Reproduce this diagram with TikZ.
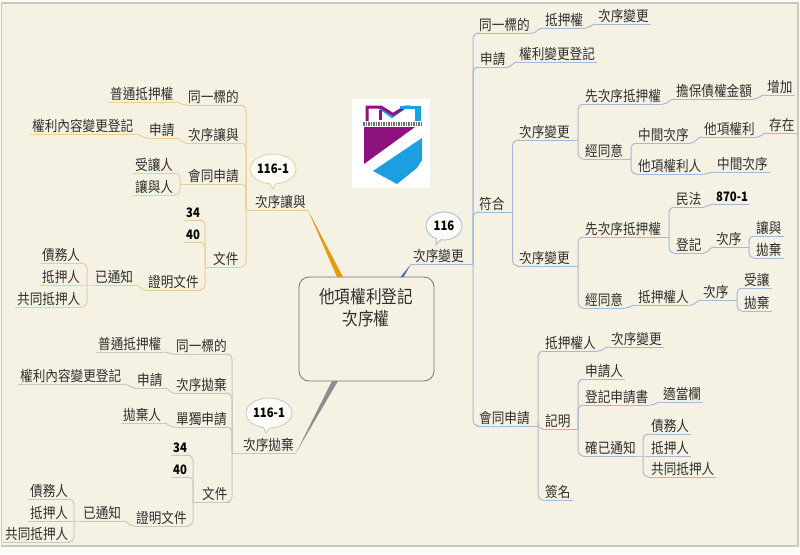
\documentclass[tikz,border=0pt]{standalone}
\usepackage{fontspec}
\setmainfont[FakeStretch=0.87]{Noto Sans CJK TC}
\usepackage{tikz}
\usetikzlibrary{shapes.geometric,shapes.callouts}
\definecolor{paper}{HTML}{F6F2E3}
\definecolor{edgepaper}{HTML}{FDFBF5}
\definecolor{frameline}{HTML}{C9C8BC}
\definecolor{inkdark}{HTML}{2E2E2E}
\definecolor{tanl}{HTML}{E6CE97}
\definecolor{grayl}{HTML}{C8C8BA}
\definecolor{bluel}{HTML}{A8B8D8}
\definecolor{wedgeorange}{HTML}{E8990F}
\definecolor{wedgegray}{HTML}{8E8E8E}
\definecolor{wedgeblue}{HTML}{4A64C0}
\definecolor{logopurple}{HTML}{8E1180}
\definecolor{logocyan}{HTML}{1B9FE0}
\tikzset{
  topic/.style={anchor=south west,inner xsep=2pt,inner ysep=0pt,text height=13pt,text depth=2pt,
    font=\fontsize{14.5}{16}\selectfont,text=inkdark,
    append after command={(\tikzlastnode.south west) edge[draw=#1,line width=1pt] (\tikzlastnode.south east)}},
  yu/.style={topic=tanl},
  pa/.style={topic=grayl},
  bg/.style={topic=bluel},
  num/.style={font=\fontsize{13}{14}\selectfont\bfseries,text=black},
  yuline/.style={draw=tanl,line width=1pt},
  paline/.style={draw=grayl,line width=1pt},
  bgline/.style={draw=bluel,line width=1pt},
  turn/.style={rounded corners=5pt},
  linkl/.style={out=180,in=0},
  linkr/.style={out=0,in=180},
  bubble/.style={ellipse callout,fill=white!70!paper,line width=0.8pt,inner sep=0pt,
    font=\fontsize{13}{14}\selectfont\bfseries,text=black},
}
\begin{document}
\begin{tikzpicture}[x=1pt,y=-1pt]
  \useasboundingbox (0,0) rectangle (800,554);
  \fill[edgepaper] (0,0) rectangle (800,554);
  \draw[frameline,fill=paper,line width=1.2pt] (1.5,3) rectangle (798,546);

  % logo
  \fill[white] (352,99) rectangle (430,188);
  \draw[logocyan,line width=2pt] (378,107) -- (392,117) -- (406,107);
  \draw[logopurple,line width=3pt] (367,121) -- (367,107) -- (381,107) -- (393,114.5) -- (405,107) -- (411,107);
  \draw[logopurple,line width=3pt] (380,110) -- (380,120);
  \draw[logocyan,line width=6pt] (418,106) -- (418,121);
  \draw[logocyan,line width=3pt] (400,107) -- (418,107);
  \draw[inkdark!70,line width=4pt,dash pattern=on 1.5pt off 1pt] (363,123.5) -- (421,123.5);
  \fill[logopurple] (364,127) -- (415,127) -- (364,164) -- cycle;
  \fill[logocyan] (422,138) -- (422,160) -- (417,168) -- (397,184) -- (373,171) -- cycle;

  % center
  \node[draw=black!55,fill=paper,rounded corners=10pt,line width=0.8pt,minimum width=135pt,minimum height=104pt,inner sep=0pt] (root) at (366.5,329) {};
  \node[font=\fontsize{18}{22}\selectfont,text=inkdark,align=center,inner sep=0pt] (roottitle) at (366,308) {他項權利登記\\次序權};

  % upper left branch
  \node[yu] (yu) at (253,210) {次序讓與};
  \node[yu] (yuA) at (186,105) {同一標的};
  \node[yu] (yuA1) at (108,102) {普通抵押權};
  \node[yu] (yuB) at (186,143) {次序讓與};
  \node[yu] (yuB1) at (147,138) {申請};
  \node[yu] (yuB2) at (30,134) {權利內容變更登記};
  \node[yu] (yuC) at (186,184) {會同申請};
  \node[yu] (yuC1) at (133,173) {受讓人};
  \node[yu] (yuC2) at (133,195) {讓與人};
  \node[yu] (yuD) at (211,267) {文件};
  \node[yu,num] (yuD1) at (184,220) {34};
  \node[yu,num] (yuD2) at (184,242) {40};
  \node[yu] (yuD3) at (146,290) {證明文件};
  \node[yu] (yuD4) at (93,285) {已通知};
  \node[yu] (yuD5) at (40,263) {債務人};
  \node[yu] (yuD6) at (40,285) {抵押人};
  \node[yu] (yuD7) at (15,307) {共同抵押人};
  \coordinate (jyu) at (246,210);
  \coordinate (jyuC) at (180,184);
  \coordinate (jyuD) at (205,267);
  \coordinate (jyuE) at (87,285);
  \foreach \c in {yuA,yuB,yuC,yuD} \draw[yuline,turn] (\c.south east) -| (jyu);
  \foreach \c in {yuC1,yuC2} \draw[yuline,turn] (\c.south east) -| (jyuC);
  \foreach \c in {yuD1,yuD2,yuD3} \draw[yuline,turn] (\c.south east) -| (jyuD);
  \foreach \c in {yuD5,yuD7} \draw[yuline,turn] (\c.south east) -| (jyuE);
  \draw[yuline] (yu.south west) -- (jyu) (yuC.south west) -- (jyuC) (yuD.south west) -- (jyuD);
  \draw[yuline] (yuD4.south west) -- (jyuE) -- (yuD6.south east);
  \foreach \a/\b in {yuA/yuA1,yuB/yuB1,yuB1/yuB2,yuD3/yuD4} \draw[yuline] (\a.south west) to[linkl] (\b.south east);
  \fill[wedgeorange] (yu.south east) -- (337,277) -- (343,277) -- cycle;
  \coordinate (tipyu) at (273,189);
  \node[bubble,draw=tanl,minimum width=46pt,minimum height=30pt,callout absolute pointer={(tipyu)}] (noteyu) at (273,169) {116-1};

  % lower left branch
  \node[pa] (pa) at (241,453) {次序拋棄};
  \node[pa] (paA) at (174,354) {同一標的};
  \node[pa] (paA1) at (96,352) {普通抵押權};
  \node[pa] (paB) at (174,393) {次序拋棄};
  \node[pa] (paB1) at (135,388) {申請};
  \node[pa] (paB2) at (18,384) {權利內容變更登記};
  \node[pa] (paC) at (174,427) {單獨申請};
  \node[pa] (paC1) at (121,423) {拋棄人};
  \node[pa] (paD) at (200,502) {文件};
  \node[pa,num] (paD1) at (171,455) {34};
  \node[pa,num] (paD2) at (171,477) {40};
  \node[pa] (paD3) at (134,526) {證明文件};
  \node[pa] (paD4) at (81,521) {已通知};
  \node[pa] (paD5) at (28,499) {債務人};
  \node[pa] (paD6) at (28,521) {抵押人};
  \node[pa] (paD7) at (3,542) {共同抵押人};
  \coordinate (jpa) at (232,453);
  \coordinate (jpaD) at (193,502);
  \coordinate (jpaE) at (74,521);
  \foreach \c in {paA,paB,paC,paD} \draw[paline,turn] (\c.south east) -| (jpa);
  \foreach \c in {paD1,paD2,paD3} \draw[paline,turn] (\c.south east) -| (jpaD);
  \foreach \c in {paD5,paD7} \draw[paline,turn] (\c.south east) -| (jpaE);
  \draw[paline] (pa.south west) -- (jpa) (paD.south west) -- (jpaD);
  \draw[paline] (paD4.south west) -- (jpaE) -- (paD6.south east);
  \foreach \a/\b in {paA/paA1,paB/paB1,paB1/paB2,paC/paC1,paD3/paD4} \draw[paline] (\a.south west) to[linkl] (\b.south east);
  \fill[wedgegray] (pa.south east) -- (332,381) -- (338,381) -- cycle;
  \coordinate (tippa) at (266,433);
  \node[bubble,draw=grayl,minimum width=46pt,minimum height=30pt,callout absolute pointer={(tippa)}] (notepa) at (269,413) {116-1};

  % right branch
  \node[bg] (bg) at (411,264) {次序變更};
  \node[bg] (bgA) at (477,33) {同一標的};
  \node[bg] (bgA1) at (543,28) {抵押權};
  \node[bg] (bgA2) at (596,24) {次序變更};
  \node[bg] (bgB) at (478,67) {申請};
  \node[bg] (bgB1) at (517,62) {權利變更登記};
  \node[bg] (bgC) at (477,212) {符合};
  \node[bg] (bgD) at (477,426) {會同申請};
  % first 次序變更
  \node[bg] (bgE) at (517,140) {次序變更};
  \node[bg] (bgE1) at (583,104) {先次序抵押權};
  \node[bg] (bgE2) at (674,99) {擔保債權金額};
  \node[bg] (bgE3) at (765,95) {增加};
  \node[bg] (bgF) at (583,159) {經同意};
  \node[bg] (bgF1) at (636,143) {中間次序};
  \node[bg] (bgF2) at (702,137) {他項權利};
  \node[bg] (bgF3) at (767,133) {存在};
  \node[bg] (bgF4) at (636,174) {他項權利人};
  \node[bg] (bgF5) at (715,172) {中間次序};
  % second 次序變更
  \node[bg] (bgG) at (517,266) {次序變更};
  \node[bg] (bgG1) at (583,237) {先次序抵押權};
  \node[bg] (bgG2) at (674,207) {民法};
  \node[bg,num] (bgG3) at (714,204) {870-1};
  \node[bg] (bgG4) at (674,253) {登記};
  \node[bg] (bgG5) at (714,247) {次序};
  \node[bg] (bgG6) at (754,236) {讓與};
  \node[bg] (bgG7) at (754,258) {拋棄};
  \node[bg] (bgH) at (583,308) {經同意};
  \node[bg] (bgH1) at (636,305) {抵押權人};
  \node[bg] (bgH2) at (701,300) {次序};
  \node[bg] (bgH3) at (742,288) {受讓};
  \node[bg] (bgH4) at (742,311) {拋棄};
  % 會同申請
  \node[bg] (bgI) at (543,351) {抵押權人};
  \node[bg] (bgI1) at (609,347) {次序變更};
  \node[bg] (bgJ) at (543,429) {記明};
  \node[bg] (bgJ1) at (583,379) {申請人};
  \node[bg] (bgJ2) at (583,405) {登記申請書};
  \node[bg] (bgJ3) at (661,402) {適當欄};
  \node[bg] (bgJ4) at (583,456) {確已通知};
  \node[bg] (bgJ5) at (649,434) {債務人};
  \node[bg] (bgJ6) at (649,456) {抵押人};
  \node[bg] (bgJ7) at (649,477) {共同抵押人};
  \node[bg] (bgK) at (543,500) {簽名};
  \coordinate (jbg) at (473,264);
  \coordinate (jbgC) at (512.5,212);
  \coordinate (jbgE) at (578,140);
  \coordinate (jbgF) at (631,159);
  \coordinate (jbgG) at (578,266);
  \coordinate (jbgG1) at (669,237);
  \coordinate (jbgG5) at (749,247);
  \coordinate (jbgH2) at (737,300);
  \coordinate (jbgD) at (538,426);
  \coordinate (jbgJ) at (578,429);
  \coordinate (jbgJ4) at (643,456);
  \foreach \c in {bgA,bgB,bgC,bgD} \draw[bgline,turn] (\c.south west) -| (jbg);
  \foreach \c in {bgE,bgG} \draw[bgline,turn] (\c.south west) -| (jbgC);
  \foreach \c in {bgE1,bgF} \draw[bgline,turn] (\c.south west) -| (jbgE);
  \foreach \c in {bgF1,bgF4} \draw[bgline,turn] (\c.south west) -| (jbgF);
  \foreach \c in {bgG1,bgH} \draw[bgline,turn] (\c.south west) -| (jbgG);
  \foreach \c in {bgG2,bgG4} \draw[bgline,turn] (\c.south west) -| (jbgG1);
  \foreach \c in {bgG6,bgG7} \draw[bgline,turn] (\c.south west) -| (jbgG5);
  \foreach \c in {bgH3,bgH4} \draw[bgline,turn] (\c.south west) -| (jbgH2);
  \foreach \c in {bgI,bgJ,bgK} \draw[bgline,turn] (\c.south west) -| (jbgD);
  \foreach \c in {bgJ1,bgJ2,bgJ4} \draw[bgline,turn] (\c.south west) -| (jbgJ);
  \foreach \c in {bgJ5,bgJ7} \draw[bgline,turn] (\c.south west) -| (jbgJ4);
  \foreach \a/\b in {bg/jbg,bgC/jbgC,bgE/jbgE,bgF/jbgF,bgG/jbgG,bgG1/jbgG1,bgG5/jbgG5,bgH2/jbgH2,bgD/jbgD,bgJ/jbgJ}
    \draw[bgline] (\a.south east) -- (\b);
  \draw[bgline] (bgJ4.south east) -- (jbgJ4) -- (bgJ6.south west);
  \foreach \a/\b in {bgA/bgA1,bgA1/bgA2,bgB/bgB1,bgE1/bgE2,bgE2/bgE3,bgF1/bgF2,bgF2/bgF3,bgF4/bgF5,bgG2/bgG3,bgG4/bgG5,bgH/bgH1,bgH1/bgH2,bgI/bgI1,bgJ2/bgJ3}
    \draw[bgline] (\a.south east) to[linkr] (\b.south west);
  \fill[wedgeblue] (bg.south west) -- (400.5,277) -- (403.5,277) -- cycle;
  \coordinate (tipbg) at (436,245);
  \node[bubble,draw=bluel,minimum width=36pt,minimum height=28pt,callout absolute pointer={(tipbg)}] (notebg) at (444,226) {116};
\end{tikzpicture}
\end{document}
